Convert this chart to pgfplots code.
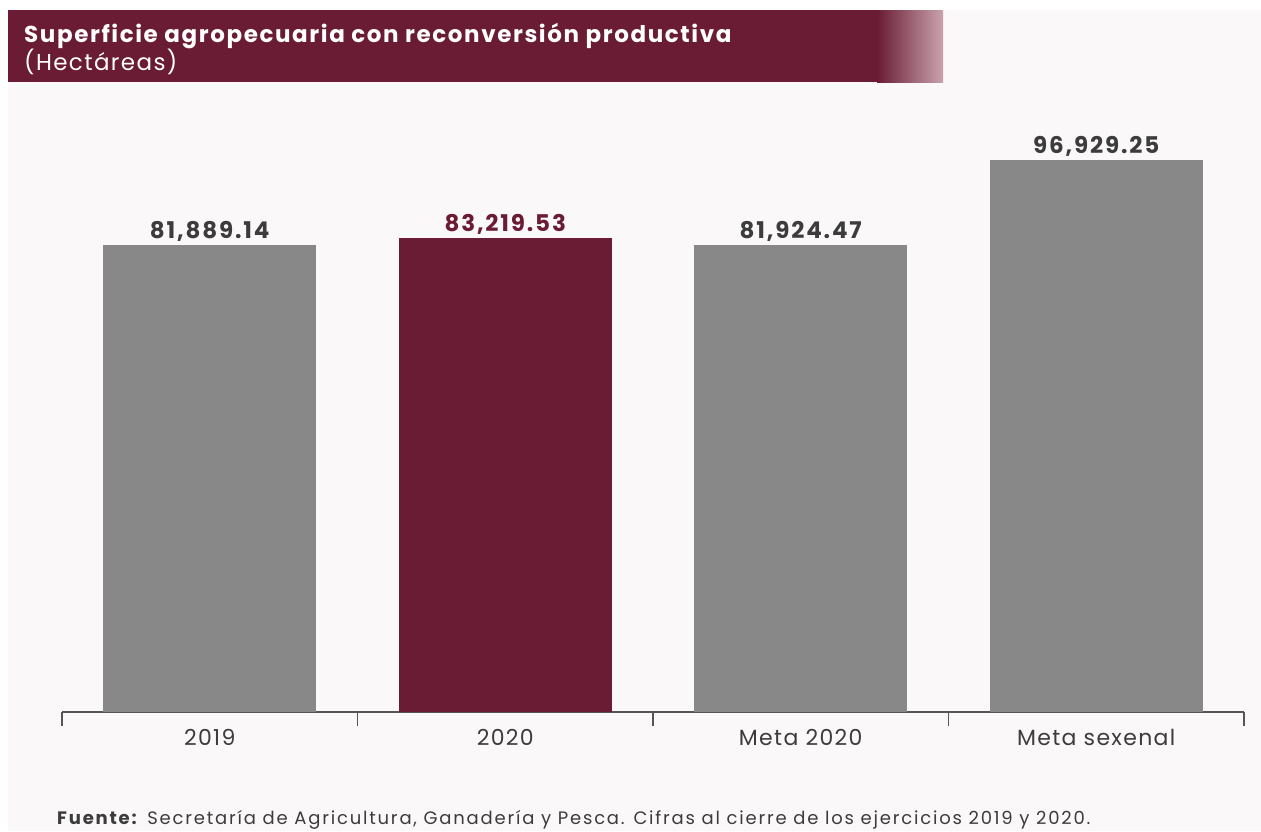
\documentclass[border=0pt]{standalone}
\usepackage{pgfplots}
\pgfplotsset{compat=1.18}
\usepackage{fontspec}
\setmainfont{Poppins}
\newfontfamily\titlefont[LetterSpace=7]{Poppins}
\newfontfamily\subfont[LetterSpace=6]{Poppins}
\newfontfamily\valfont[LetterSpace=8]{Poppins}
\newfontfamily\tickfont[LetterSpace=6]{Poppins}
\newfontfamily\notefont[LetterSpace=10]{Poppins}
\definecolor{bg}{HTML}{FBF8F9}
\definecolor{vino}{HTML}{6A1C34}
\definecolor{vinoclaro}{HTML}{C9A3AE}
\definecolor{barra}{HTML}{888888}
\definecolor{texto}{HTML}{3C3C3C}
\definecolor{eje}{HTML}{555555}
\begin{document}
\begin{tikzpicture}
% fondo y encabezado, en pixeles
\begin{scope}[x=1pt,y=-1pt]
\fill[white] (0,0) rectangle (1261,831);
\fill[bg] (8,10) rectangle (1261,831);
\fill[vino] (8,10) rectangle (878,82);
\shade[left color=vino,right color=vinoclaro] (877,10) rectangle (943,82);
\node[anchor=base west,inner sep=0pt,text=white,font=\titlefont\fontsize{23}{27}\selectfont\bfseries]
  at (24,42) {Superficie agropecuaria con reconversión productiva};
\node[anchor=base west,inner sep=0pt,text=white,font=\subfont\fontsize{23}{27}\selectfont]
  at (24,70) {(Hectáreas)};
\node[anchor=base west,inner sep=0pt,text=texto,font=\notefont\fontsize{18}{21}\selectfont]
  at (57,824) {\textbf{Fuente:} Secretaría de Agricultura, Ganadería y Pesca. Cifras al cierre de los ejercicios 2019 y 2020.};
\end{scope}
\begin{axis}[
    at={(62pt,-712pt)}, anchor=south west,
    scale only axis, width=1182pt, height=627pt,
    xmin=-0.5, xmax=3.5, ymin=0, ymax=110000,
    axis y line=none, axis x line*=bottom,
    x axis line style={-,draw=eje,line width=1.5pt},
    xtick={0,1,2,3},
    xticklabels={2019,2020,Meta 2020,Meta sexenal},
    major tick length=0pt,
    minor xtick={-0.5,0.5,1.5,2.5,3.5},
    minor tick length=14pt, tick align=inside,
    minor tick style={draw=eje,line width=1.5pt},
    xticklabel style={text=texto,font=\tickfont\fontsize{22}{26}\selectfont,yshift=-14pt},
    clip=false,
    ybar, bar width=213pt, bar shift=0pt,
    nodes near coords={\pgfmathprintnumber[fixed,fixed zerofill,precision=2,1000 sep={,},assume math mode=true]{\pgfplotspointmeta}},
    every node near coord/.append style={text=texto,font=\valfont\fontsize{23}{27}\selectfont\bfseries},
  ]
  \addplot[fill=barra,draw=none] coordinates {(0,81889.14)};
  \addplot[fill=vino,draw=none,every node near coord/.append style={text=vino}] coordinates {(1,83219.53)};
  \addplot[fill=barra,draw=none] coordinates {(2,81924.47)};
  \addplot[fill=barra,draw=none] coordinates {(3,96929.25)};
\end{axis}
\end{tikzpicture}
\end{document}
